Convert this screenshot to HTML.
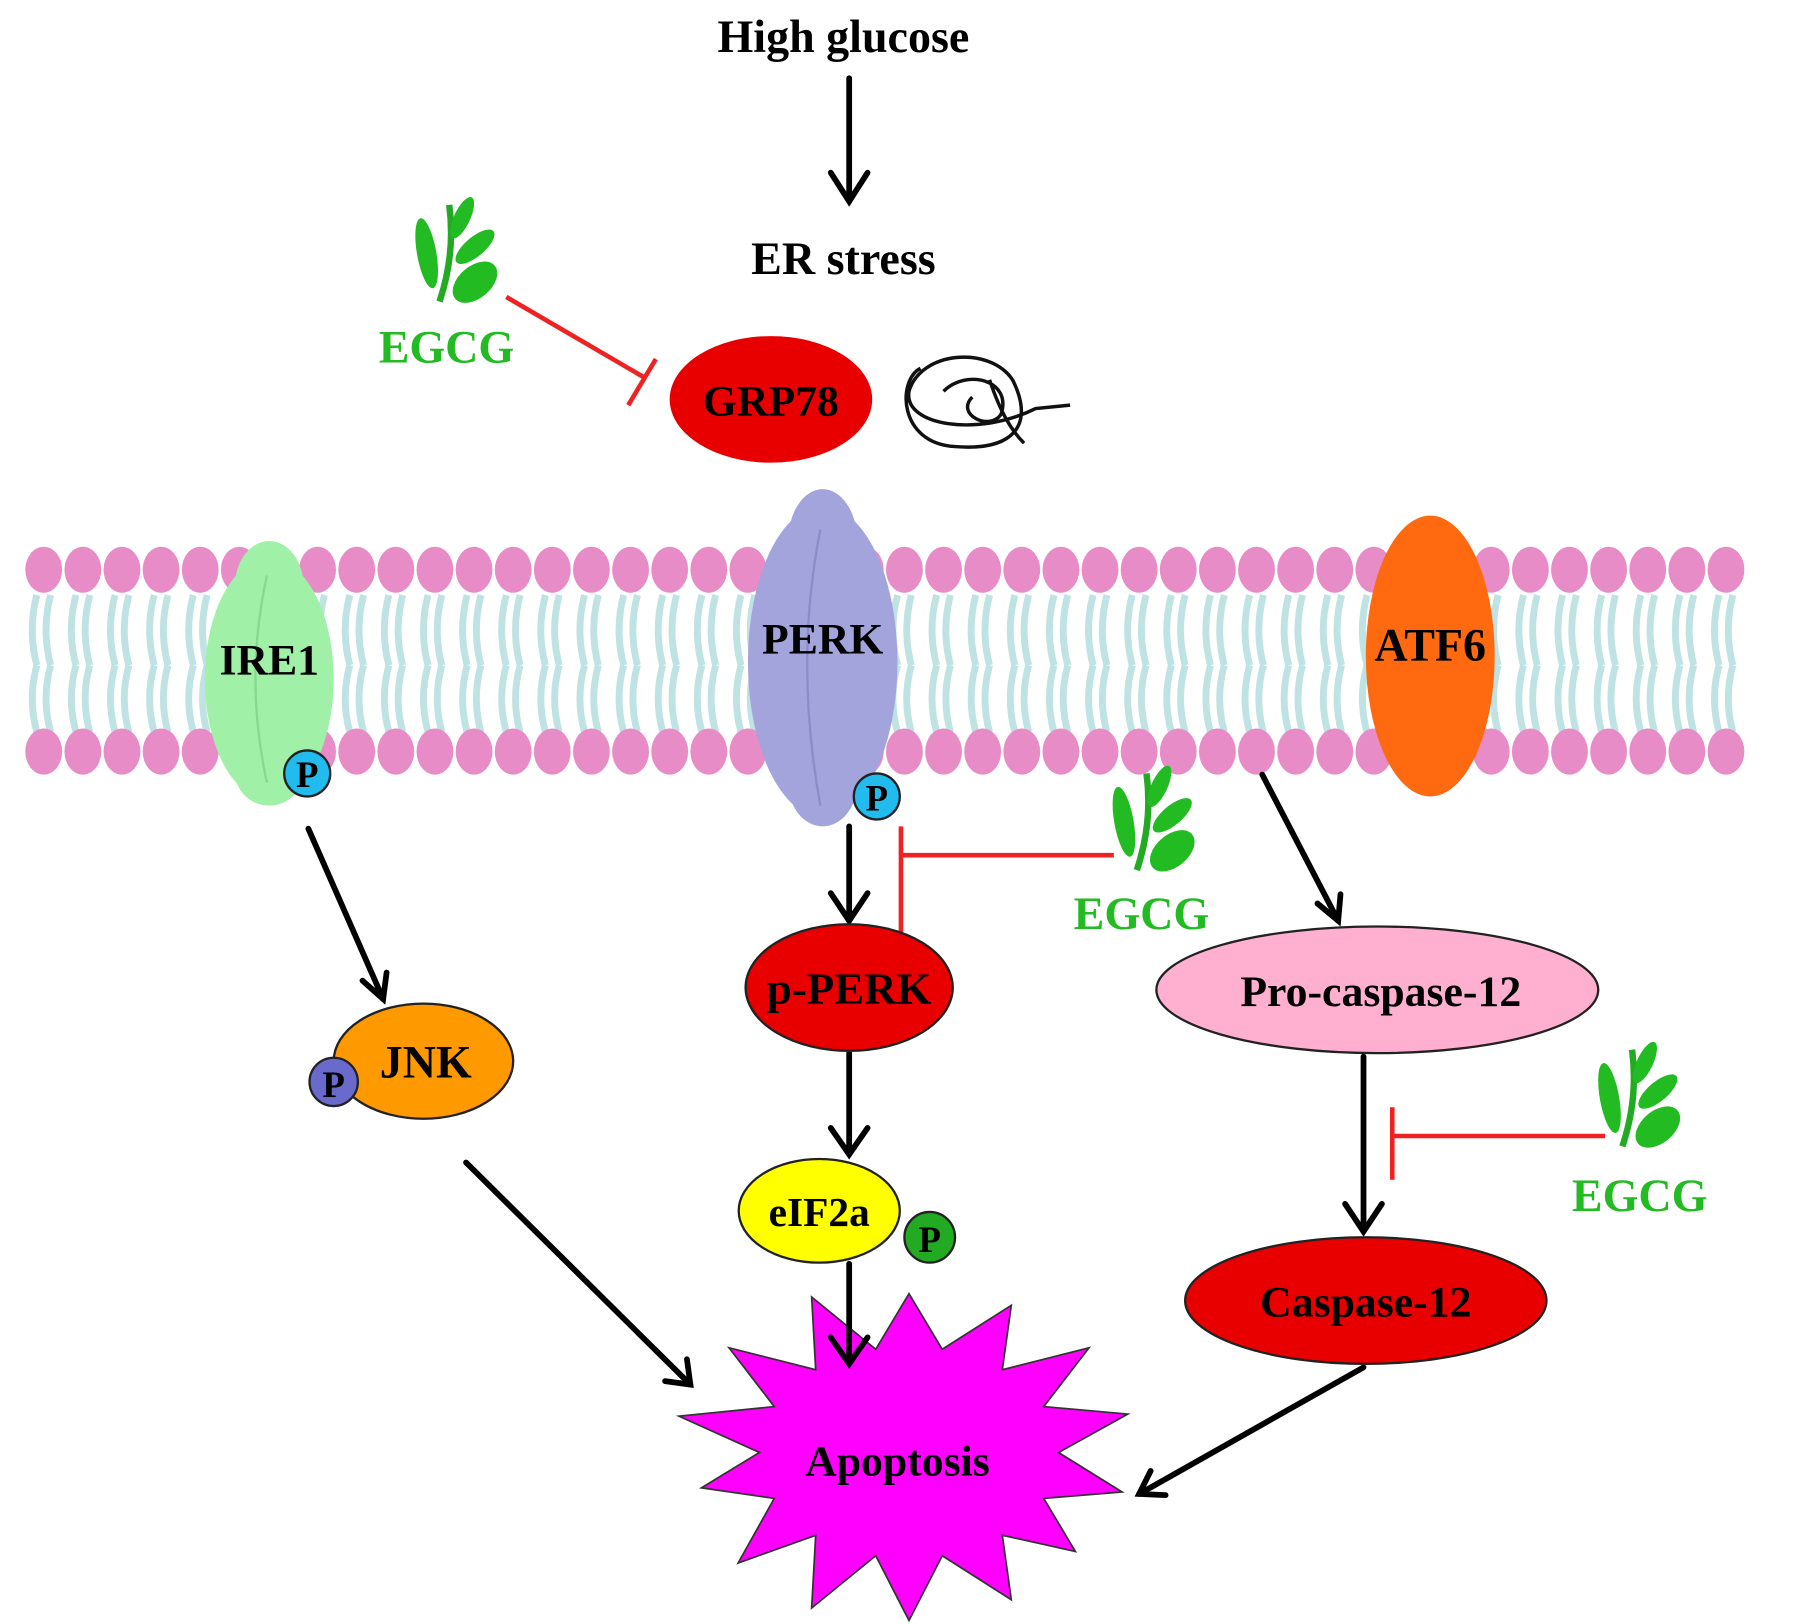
<!DOCTYPE html>
<html><head><meta charset="utf-8"><style>
html,body{margin:0;padding:0;background:#fff}
svg{display:block}
text{font-family:"Liberation Serif",serif;font-weight:bold}
</style></head><body>
<svg id="s" width="1795" height="1624" viewBox="0 0 1560 1411" preserveAspectRatio="none" xmlns="http://www.w3.org/2000/svg">
<defs>
<g id="leaf">
<path d="M0,60 Q10,30 6,0" stroke="#22aa22" stroke-width="4" fill="none"/>
<ellipse cx="-8" cy="30" rx="6" ry="22" fill="#22bb22" transform="rotate(-10 -8 30)"/>
<ellipse cx="14" cy="8" rx="5" ry="14" fill="#22bb22" transform="rotate(25 14 8)"/>
<ellipse cx="22" cy="26" rx="6" ry="15" fill="#22bb22" transform="rotate(50 22 26)"/>
<ellipse cx="22" cy="48" rx="10" ry="16" fill="#22bb22" transform="rotate(50 22 48)"/>
</g>
</defs>
<g id="mem"></g>
<polygon id="star" fill="#ff00ff" stroke="#333" stroke-width="1.5"/>
<text x="733" y="45" font-size="40" text-anchor="middle">High glucose</text>
<text x="733" y="238" font-size="40" text-anchor="middle">ER stress</text>
<g stroke="#000" stroke-width="5" fill="none" stroke-linecap="round">
<line x1="738" y1="68" x2="738" y2="175"/><path d="M722,150 L738,175 L754,150"/>
<line x1="268" y1="720" x2="333" y2="868"/><path d="M315,852 L333,868 L336,845"/>
<line x1="738" y1="718" x2="738" y2="800"/><path d="M722,776 L738,800 L754,776"/>
<line x1="1097" y1="673" x2="1163" y2="800"/><path d="M1145,785 L1163,800 L1165,777"/>
<line x1="738" y1="915" x2="738" y2="1003"/><path d="M722,980 L738,1003 L754,980"/>
<line x1="738" y1="1098" x2="738" y2="1185"/><path d="M722,1162 L738,1185 L754,1162"/>
<line x1="405" y1="1010" x2="600" y2="1203"/><path d="M578,1200 L600,1203 L597,1181"/>
<line x1="1185" y1="918" x2="1185" y2="1070"/><path d="M1169,1046 L1185,1070 L1201,1046"/>
<line x1="1185" y1="1188" x2="990" y2="1298"/><path d="M1000,1278 L990,1298 L1013,1299"/>
</g>
<g stroke="#ee2222" stroke-width="4">
<line x1="440" y1="258" x2="560" y2="328"/><line x1="546" y1="352" x2="570" y2="312"/>
<line x1="783" y1="743" x2="968" y2="743"/><line x1="783" y1="718" x2="783" y2="810"/>
<line x1="1210" y1="987" x2="1395" y2="987"/><line x1="1210" y1="962" x2="1210" y2="1025"/>
</g>
<use href="#leaf" transform="translate(382,178) scale(1.4)"/>
<use href="#leaf" transform="translate(988,672) scale(1.4)"/>
<use href="#leaf" transform="translate(1410,912) scale(1.4)"/>
<g fill="#22bb22" font-size="40" text-anchor="middle">
<text x="388" y="315">EGCG</text><text x="992" y="807">EGCG</text><text x="1425" y="1052">EGCG</text>
</g>
<ellipse cx="670" cy="347" rx="88" ry="55" fill="#e80000"/>
<text x="670" y="361" font-size="38" text-anchor="middle">GRP78</text>
<g stroke="#111" stroke-width="3" fill="none">
<path d="M800,320 C780,330 780,385 830,388 C880,392 900,370 880,330 C860,300 800,305 790,340 C785,370 850,380 900,355 L930,352 M820,340 C840,320 880,330 870,360 C860,375 830,360 845,345 M860,330 C870,360 880,375 890,385"/>
</g>
<g id="prot"></g>
<ellipse cx="368" cy="922" rx="78" ry="50" fill="#ff9900" stroke="#222" stroke-width="2"/>
<text x="370" y="936" font-size="40" text-anchor="middle">JNK</text>
<circle cx="290" cy="940" r="21" fill="#6a6acc" stroke="#222" stroke-width="2"/><text x="290" y="953" font-size="32" text-anchor="middle">P</text>
<ellipse cx="738" cy="858" rx="90" ry="55" fill="#e80000" stroke="#222" stroke-width="2"/>
<text x="738" y="872" font-size="39" text-anchor="middle">p-PERK</text>
<ellipse cx="1197" cy="860" rx="192" ry="55" fill="#ffb0d0" stroke="#222" stroke-width="2"/>
<text x="1200" y="874" font-size="38" text-anchor="middle">Pro-caspase-12</text>
<ellipse cx="712" cy="1052" rx="70" ry="45" fill="#ffff00" stroke="#222" stroke-width="2"/>
<text x="712" y="1065" font-size="36" text-anchor="middle">eIF2a</text>
<circle cx="808" cy="1075" r="22" fill="#22aa22" stroke="#222" stroke-width="2"/><text x="808" y="1088" font-size="32" text-anchor="middle">P</text>
<ellipse cx="1187" cy="1130" rx="157" ry="55" fill="#e80000" stroke="#222" stroke-width="2"/>
<text x="1187" y="1144" font-size="38" text-anchor="middle">Caspase-12</text>
<text x="780" y="1282" font-size="38" text-anchor="middle">Apoptosis</text>
</svg>
<script>
var NS="http://www.w3.org/2000/svg";
function el(p,t,a){var e=document.createElementNS(NS,t);for(var k in a)e.setAttribute(k,a[k]);p.appendChild(e);return e;}
var m=document.getElementById("mem");
for(var x=38;x<=1522;x+=34){
 [[517,578],[578,636]].forEach(function(r){
  el(m,"path",{d:"M"+(x-6)+","+r[0]+" Q"+(x-14)+","+((r[0]+r[1])/2)+" "+(x-6)+","+r[1],stroke:"#bfe2e2","stroke-width":6,fill:"none"});
  el(m,"path",{d:"M"+(x+6)+","+r[0]+" Q"+(x-2)+","+((r[0]+r[1])/2)+" "+(x+6)+","+r[1],stroke:"#bfe2e2","stroke-width":6,fill:"none"});
 });
 el(m,"ellipse",{cx:x,cy:495,rx:16,ry:20,fill:"#e88cc8"});
 el(m,"ellipse",{cx:x,cy:653,rx:16,ry:20,fill:"#e88cc8"});
}
var p=document.getElementById("prot");
el(p,"ellipse",{cx:234,cy:590,rx:56,ry:105,fill:"#a0f0a8"});
el(p,"ellipse",{cx:234,cy:510,rx:30,ry:40,fill:"#a0f0a8"});
el(p,"ellipse",{cx:234,cy:670,rx:30,ry:30,fill:"#a0f0a8"});
el(p,"path",{d:"M232,500 Q212,590 232,680",stroke:"#88d890","stroke-width":2,fill:"none"});
el(p,"text",{x:234,y:586,"font-size":38,"text-anchor":"middle"}).textContent="IRE1";
el(p,"circle",{cx:267,cy:672,r:20,fill:"#22bbee",stroke:"#222","stroke-width":2});
el(p,"text",{x:267,y:684,"font-size":32,"text-anchor":"middle"}).textContent="P";
el(p,"ellipse",{cx:715,cy:575,rx:65,ry:135,fill:"#a4a4dc"});
el(p,"ellipse",{cx:715,cy:470,rx:30,ry:45,fill:"#a4a4dc"});
el(p,"ellipse",{cx:715,cy:680,rx:30,ry:38,fill:"#a4a4dc"});
el(p,"path",{d:"M713,460 Q690,575 713,700",stroke:"#8c8cc8","stroke-width":2,fill:"none"});
el(p,"text",{x:715,y:568,"font-size":38,"text-anchor":"middle"}).textContent="PERK";
el(p,"circle",{cx:762,cy:692,r:20,fill:"#22bbee",stroke:"#222","stroke-width":2});
el(p,"text",{x:762,y:704,"font-size":32,"text-anchor":"middle"}).textContent="P";
el(p,"ellipse",{cx:1243,cy:570,rx:56,ry:122,fill:"#ff6a10"});
el(p,"text",{x:1243,y:574,"font-size":40,"text-anchor":"middle"}).textContent="ATF6";
var pts=[],n=14;
for(var i=0;i<2*n;i++){var a=-Math.PI/2+i*Math.PI/n;var o=i%2==0;
 var rx=o?(185+((i*37)%5)*5):130, ry=o?(138+((i*53)%5)*4):92;
 pts.push((790+rx*Math.cos(a)).toFixed(1)+","+(1262+ry*Math.sin(a)).toFixed(1));}
document.getElementById("star").setAttribute("points",pts.join(" "));
</script>
</body></html>
